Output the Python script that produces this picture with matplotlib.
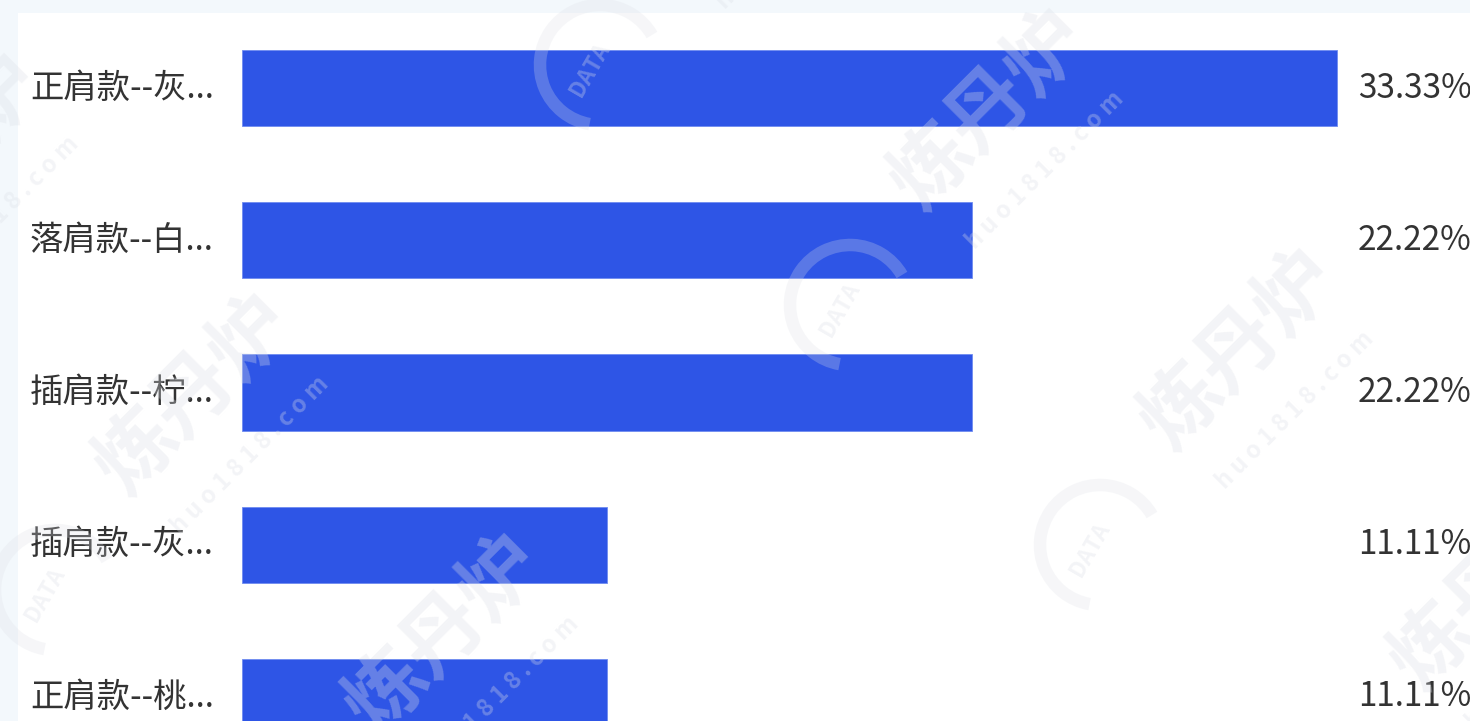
import matplotlib
matplotlib.use('Agg')
import matplotlib.pyplot as plt
import matplotlib.patches as mpatches
import matplotlib.transforms as mtrans
import numpy as np

plt.rcParams['font.family'] = ['Noto Sans CJK SC', 'DejaVu Sans']

# 款式占比
labels = ['正肩款--灰...', '落肩款--白...', '插肩款--柠...', '插肩款--灰...', '正肩款--桃...']
shares = [33.33, 22.22, 22.22, 11.11, 11.11]

W, H = 1470, 721
BAR = '#2e55e6'
TXT = '#333333'

fig = plt.figure(figsize=(W / 100, H / 100), dpi=100, facecolor='#f3f8fc')

# white card behind everything
fig.patches.append(mpatches.Rectangle((18 / W, 0), 1, 1 - 13 / H, transform=fig.transFigure,
                                      facecolor='white', edgecolor='none', zorder=-10))

# bar area: 0% at x=242px, 32.85 px per percent
x0 = 242
ppu = 32.85
ax = fig.add_axes([x0 / W, 0, 1 - x0 / W, 1], zorder=1)
ax.set_facecolor('none')
y = np.arange(len(labels))
ax.barh(y, shares, height=0.5, color=BAR, edgecolor='#6f8cf0', linewidth=0.6)
ax.set_xlim(0, (W - x0) / ppu)
step = 152.25
ax.set_ylim((H - 88) / step, -88 / step)
ax.axis('off')

tr = mtrans.blended_transform_factory(fig.transFigure, ax.transData)
for i, (lab, v) in enumerate(zip(labels, shares)):
    ax.text(30 / W, i, lab, transform=tr, ha='left', va='center', fontsize=24, color=TXT,
            clip_on=False)
    ax.text(1358 / W, i, f'{v:.2f}%', transform=tr, ha='left', va='center', fontsize=24,
            color=TXT, clip_on=False)

# faint watermark tiles
wm = fig.add_axes([0, 0, 1, 1], zorder=5)
wm.set_facecolor('none')
wm.set_xlim(0, W); wm.set_ylim(H, 0)
wm.axis('off')
wc = '#dcdfe6'
wa = 0.32
for a in range(-1, 3):
    for b in range(0, 3):
        cx = 195 + a * 250 + b * 795
        cy = 395 + a * 240 - b * 285
        if cx < -300 or cx > W + 300 or cy < -300 or cy > H + 300:
            continue
        wm.text(cx, cy, '炼丹炉', rotation=45, ha='center', va='center', fontsize=58,
                fontweight='bold', color=wc, alpha=wa)
        wm.text(cx + 55, cy + 60, ' '.join('huo1818.com'), rotation=45, ha='center',
                va='center', fontsize=17, fontweight='bold', color=wc, alpha=wa)
        wm.text(cx - 400, cy - 40, 'DATA', rotation=60, ha='center', va='center',
                fontsize=16, fontweight='bold', color=wc, alpha=wa)
        wm.add_patch(mpatches.Arc((cx - 390, cy - 45), 120, 120, theta1=100, theta2=330,
                                  lw=9, color=wc, alpha=wa * 0.8))

fig.savefig('out.png', dpi=100, facecolor=fig.get_facecolor())
